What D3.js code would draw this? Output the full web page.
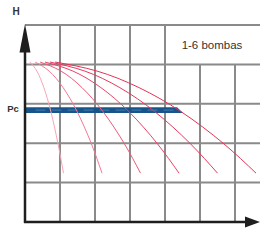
<!DOCTYPE html>
<html><head><meta charset="utf-8">
<script src="https://cdn.jsdelivr.net/npm/d3@7"></script>
<style>body{margin:0;background:#fff}svg{display:block}</style>
</head><body>
<svg id="c" width="260" height="240"></svg>
<script>
// Head values shared by every curve (grid units)
const headValues = [4.06, 3.83, 3.41, 2.80, 2.00, 1.24];
// Flow values for 1..6 pumps in parallel (grid units)
const flow1 = [0.14, 0.34, 0.54, 0.74, 0.94, 1.10];
const flow2 = [0.29, 0.69, 1.09, 1.49, 1.89, 2.20];
const flow3 = [0.43, 1.03, 1.63, 2.23, 2.83, 3.30];
const flow4 = [0.57, 1.37, 2.17, 2.97, 3.77, 4.40];
const flow5 = [0.71, 1.71, 2.71, 3.71, 4.71, 5.50];
const flow6 = [0.86, 2.06, 3.26, 4.46, 5.66, 6.60];
const flows = [flow1, flow2, flow3, flow4, flow5, flow6];
const curveColors = ["#f7a6b8", "#f47a94", "#f05a78", "#ec4466", "#e9385c", "#e63356"];
const pcValue = 2.84, pcEnd = 4.43;
const xGrid = [1, 2, 3, 4, 5, 6];
const yGrid = [1, 2, 3, 4, 5];
const titleText = "1-6 bombas", yLabel = "H", pcLabel = "Pc";

const svg = d3.select("#c");
const x = d3.scaleLinear().domain([0, 6.714]).range([25, 260]);
const y = d3.scaleLinear().domain([0, 5]).range([222, 25]);

const grid = svg.append("g").attr("stroke", "#8a8a8a").attr("stroke-width", 2);
// vertical grid lines: Q=1..4 go full height; 5,6 stop at H=4
xGrid.forEach(q => {
  grid.append("line").attr("x1", x(q)).attr("x2", x(q))
    .attr("y1", y(0)).attr("y2", q <= 4 ? y(5) : y(4));
});
yGrid.forEach(h => {
  grid.append("line").attr("x1", x(0)).attr("x2", x(6.714))
    .attr("y1", y(h)).attr("y2", y(h));
});

// Pc band
svg.append("path")
  .attr("d", `M${x(0)},${y(pcValue)-2.8}L${x(pcEnd)-3},${y(pcValue)-2.8}L${x(pcEnd)+3},${y(pcValue)+2.8}L${x(0)},${y(pcValue)+2.8}Z`)
  .attr("fill", "#17548a");
svg.append("line").attr("x1", x(0.3)).attr("x2", x(pcEnd) - 4)
  .attr("y1", y(pcValue)).attr("y2", y(pcValue))
  .attr("stroke", "#4f86b8").attr("stroke-width", 0.8).attr("stroke-dasharray", "10 6");

// pump curves
const line = d3.line().curve(d3.curveNatural).x(d => x(d[0])).y(d => y(d[1]));
flows.forEach((f, i) => {
  svg.append("path").datum(f.map((q, j) => [q, headValues[j]]))
    .attr("d", line).attr("fill", "none")
    .attr("stroke", curveColors[i]).attr("stroke-width", 1);
});

// axes
svg.append("line").attr("x1", x(0)).attr("x2", x(0)).attr("y1", y(0) + 1).attr("y2", y(4.5))
  .attr("stroke", "#1e1e1e").attr("stroke-width", 2.5);
svg.append("path").attr("d", `M${x(0)},${y(5)-1}L${x(0)-5.5},${y(4.3)}L${x(0)+5.5},${y(4.3)}Z`).attr("fill", "#1e1e1e");
svg.append("line").attr("x1", x(0) - 1).attr("x2", 247).attr("y1", y(0)).attr("y2", y(0))
  .attr("stroke", "#1e1e1e").attr("stroke-width", 2.5);
svg.append("path").attr("d", `M260,${y(0)}L245,${y(0)-5.5}L245,${y(0)+5.5}Z`).attr("fill", "#1e1e1e");

// text
svg.append("text").attr("x", 16).attr("y", 14.5).attr("text-anchor", "middle")
  .attr("font-family", "Liberation Sans, Arial, sans-serif").attr("font-size", 10).attr("font-weight", "bold")
  .attr("fill", "#333").text(yLabel);
svg.append("text").attr("x", 13).attr("y", 112).attr("text-anchor", "middle")
  .attr("font-family", "Liberation Sans, Arial, sans-serif").attr("font-size", 9.5).attr("font-weight", "bold")
  .attr("fill", "#333").text(pcLabel);
svg.append("text").attr("x", 212).attr("y", 49).attr("text-anchor", "middle")
  .attr("font-family", "Liberation Sans, Arial, sans-serif").attr("font-size", 11.5)
  .attr("fill", "#333").text(titleText);
</script>
</body></html>
